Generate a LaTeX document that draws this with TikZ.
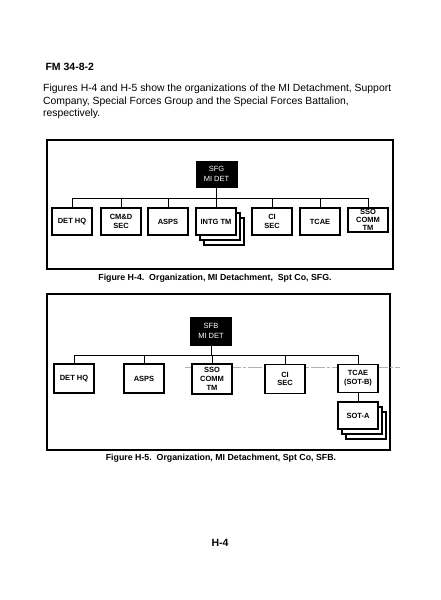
\documentclass[tikz,border=0pt]{standalone}
\usepackage{fontspec}
\setmainfont{Liberation Sans}
\usetikzlibrary{shadows}

\begin{document}
\begin{tikzpicture}[
  x=1pt, y=-1pt,
  frame/.style={draw=black, line width=1.8pt},
  unit/.style={draw=black, line width=1.5pt, fill=white, align=center,
               minimum width=40pt, minimum height=27pt, inner sep=1pt,
               font=\fontsize{7.5}{8.8}\selectfont\bfseries},
  head/.style={draw=black, fill=black, text=white, align=center,
               minimum width=41pt, minimum height=26pt, inner sep=1pt,
               font=\fontsize{7.5}{9.5}\selectfont},
  stack/.style={double copy shadow={shadow xshift=4pt, shadow yshift=-5pt}},
  link/.style={draw=black, line width=0.9pt},
  figcap/.style={font=\fontsize{8.8}{10}\selectfont\bfseries}
]
  \useasboundingbox (0,0) rectangle (440,600);

  % ========== PAGE TEXT ==========
  \node[anchor=west, font=\fontsize{10.5}{12}\selectfont\bfseries] (fm) at (42,67) {FM 34-8-2};
  \node[anchor=north west, align=left, inner sep=0pt,
        font=\fontsize{10.4}{12.5}\selectfont] (intro) at (43,84) {
    Figures H-4 and H-5 show the organizations of the MI Detachment, Support\\
    Company, Special Forces Group and the Special Forces Battalion,\\
    respectively.
  };

  % ========== FIGURE H-4 ==========
  \draw[frame] (47,140) rectangle (393,269);

  \node[head] (sfg) at (216.5,174) {SFG\\MI DET};

  \node[unit] (dethq) at (72,221.5) {DET HQ};
  \node[unit] (cmd)   at (121,221.5) {CM\&D\\SEC};
  \node[unit] (asps)  at (168,221.5) {ASPS};
  \node[unit, stack] (intg) at (216,221.5) {INTG TM};
  \node[unit] (cisec) at (272,221.5) {CI\\SEC};
  \node[unit] (tcae)  at (320,221.5) {TCAE};
  \node[unit, minimum height=24pt, font=\fontsize{7.5}{7.8}\selectfont\bfseries]
    (sso) at (368,220) {SSO\\COMM\\TM};

  \coordinate (bus1) at (0,198);
  \draw[link] (sfg.south) -- (sfg.south |- bus1);
  \draw[link] (dethq.north |- bus1) -- (sso.north |- bus1);
  \foreach \n in {dethq, cmd, asps, intg, cisec, tcae, sso}
    \draw[link] (\n.north) -- (\n.north |- bus1);

  \node[figcap] (cap1) at (215,278)
    {Figure H-4.~~Organization, MI Detachment,~~Spt Co, SFG.};

  % ========== FIGURE H-5 ==========
  \draw[frame] (47,294) rectangle (390,450);

  % faint scan line
  \draw[gray!60, line width=0.5pt, dash pattern=on 14pt off 2pt on 3pt off 2pt]
    (185,367) -- (400,367);

  \node[head, minimum height=28pt] (sfb) at (211,331) {SFB\\MI DET};

  \node[unit, minimum height=29pt] (dethqb) at (74,378.5) {DET HQ};
  \node[unit, minimum height=29pt] (aspsb)  at (144,378.5) {ASPS};
  \node[unit, minimum height=30pt] (ssob)   at (212,379) {SSO\\COMM\\TM};
  \node[unit, minimum height=29pt] (cisecb) at (285,379) {CI\\SEC};
  \node[unit, minimum height=28pt] (tcaeb)  at (358,378.5) {TCAE\\(SOT-B)};
  \node[unit, stack] (sota) at (358,415.5) {SOT-A};

  \coordinate (bus2) at (0,355);
  \draw[link] (sfb.south) -- (sfb.south |- bus2);
  \draw[link] (dethqb.north |- bus2) -- (tcaeb.north |- bus2);
  \foreach \n in {dethqb, aspsb, ssob, cisecb, tcaeb}
    \draw[link] (\n.north) -- (\n.north |- bus2);
  \draw[link] (tcaeb.south) -- (sota.north);

  \node[figcap] (cap2) at (221,458)
    {Figure H-5.~~Organization, MI Detachment, Spt Co, SFB.};

  % ========== PAGE NUMBER ==========
  \node[font=\fontsize{10.5}{12}\selectfont\bfseries] (pg) at (220,543) {H-4};

\end{tikzpicture}
\end{document}
